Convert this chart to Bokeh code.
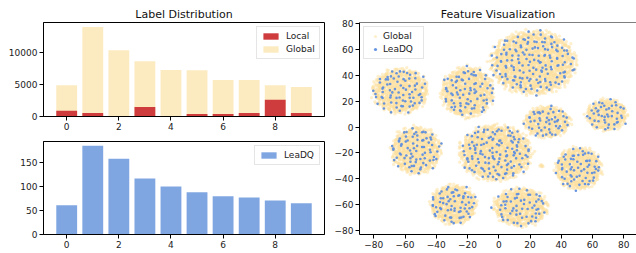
import math
from bokeh.plotting import figure
from bokeh.models import Legend, LegendItem, FixedTicker, Range1d, Span
from bokeh.layouts import row, column
from bokeh.embed import file_html
from bokeh.resources import INLINE

# ---------------- data ----------------
classes = [0, 1, 2, 3, 4, 5, 6, 7, 8, 9]
global_counts = [4900, 14000, 10350, 8650, 7260, 7240, 5700, 5700, 4900, 4600]
local_counts = [900, 550, 60, 1500, 60, 400, 400, 550, 2600, 550]
leadq_counts = [61, 185, 158, 117, 100, 88, 80, 77, 71, 65]

bar_xticks = [0, 2, 4, 6, 8]
top_yticks = [0, 5000, 10000]
bot_yticks = [0, 50, 100, 150]
tsne_ticks = [-80, -60, -40, -20, 0, 20, 40, 60, 80]

# t-SNE cluster centres / extents / point counts
cluster_cx = [-63, -20, 22, 69, 31, -53, -2, 51, -29, 14, 27.5]
cluster_cy = [28, 27, 50, 9.5, 4, -18, -20, -32, -60, -62, -30]
cluster_rx = [17.5, 16.5, 26.5, 13, 14.5, 15.5, 22.5, 14.5, 14.5, 17, 1.5]
cluster_ry = [17, 19, 24, 12, 12, 18, 21, 16, 15, 14.5, 1]
cluster_global_n = [700, 740, 1500, 370, 410, 660, 1120, 550, 520, 580, 6]
cluster_leadq_n = [75, 80, 160, 45, 50, 75, 130, 65, 65, 60, 0]

FONT = "DejaVu Sans"
C_LOCAL = "#cf3c3e"
C_GLOBAL = "#fcebc0"
C_LEADQ = "#80a6e2"
C_PT_GLOBAL = "#fddf9c"
C_PT_LEADQ = "#5f8fdf"


def halton(i, b):
    f, r = 1.0, 0.0
    while i > 0:
        f /= b
        r += f * (i % b)
        i //= b
    return r


def cluster_points(counts, seed_off):
    xs, ys = [], []
    for k in range(len(cluster_cx)):
        start = 1 + k * 1009 + seed_off
        for i in range(start, start + counts[k]):
            u = halton(i, 2)
            v = halton(i, 3)
            w = halton(i, 5)
            r = math.sqrt(u) * (0.88 + 0.24 * w)
            th = 2 * math.pi * v
            xs.append(cluster_cx[k] + cluster_rx[k] * r * math.cos(th))
            ys.append(cluster_cy[k] + cluster_ry[k] * r * math.sin(th))
    return xs, ys


def style(p):
    p.outline_line_color = "black"
    p.outline_line_width = 1
    p.xgrid.visible = False
    p.ygrid.visible = False
    p.background_fill_color = "white"
    p.border_fill_color = "white"
    for ax in p.axis:
        ax.axis_line_color = "black"
        ax.axis_line_width = 1
        ax.major_tick_out = 4
        ax.major_tick_in = 0
        ax.major_tick_line_color = "black"
        ax.minor_tick_line_color = None
        ax.major_label_text_font = FONT
        ax.major_label_text_font_size = "9px"
        ax.major_label_text_color = "#222222"
        ax.major_label_standoff = 2
    if p.title is not None:
        p.title.text_font = FONT
        p.title.text_font_size = "11px"
        p.title.text_font_style = "normal"
        p.title.text_color = "#111111"
        p.title.align = "center"
        p.title.standoff = 3


def style_legend(lg, gw, gh, standoff, lw):
    lg.margin = 4
    lg.padding = 4
    lg.spacing = 3
    lg.glyph_width = gw
    lg.glyph_height = gh
    lg.label_height = 10
    lg.label_width = lw
    lg.label_standoff = standoff
    lg.label_text_font = FONT
    lg.label_text_font_size = "9px"
    lg.label_text_color = "#222222"
    lg.border_line_color = "#cccccc"
    lg.border_line_width = 1
    lg.background_fill_color = "white"
    lg.background_fill_alpha = 0.8


# ---------------- top-left: Label Distribution ----------------
p1 = figure(width=330, height=134, output_backend="svg", toolbar_location=None,
            title="Label Distribution",
            x_range=Range1d(-0.89, 9.89), y_range=Range1d(0, 14700),
            min_border_left=43, min_border_right=6, min_border_top=22, min_border_bottom=18)
r_glob = p1.vbar(x=classes, top=global_counts, width=0.8, fill_color=C_GLOBAL, line_color=None)
r_loc = p1.vbar(x=classes, top=local_counts, width=0.8, fill_color=C_LOCAL, line_color=None)
p1.xaxis.ticker = FixedTicker(ticks=bar_xticks)
p1.yaxis.ticker = FixedTicker(ticks=top_yticks)
style(p1)
lg1 = Legend(items=[LegendItem(label="Local", renderers=[r_loc]),
                    LegendItem(label="Global", renderers=[r_glob])],
             location="top_right")
style_legend(lg1, 19, 8, 6, 29)
p1.add_layout(lg1)

# ---------------- bottom-left: LeaDQ ----------------
p2 = figure(width=330, height=119, output_backend="svg", toolbar_location=None,
            x_range=Range1d(-0.89, 9.89), y_range=Range1d(0, 194),
            min_border_left=43, min_border_right=6, min_border_top=7, min_border_bottom=19)
r_lq = p2.vbar(x=classes, top=leadq_counts, width=0.8, fill_color=C_LEADQ, line_color=None)
p2.xaxis.ticker = FixedTicker(ticks=bar_xticks)
p2.yaxis.ticker = FixedTicker(ticks=bot_yticks)
style(p2)
lg2 = Legend(items=[LegendItem(label="LeaDQ", renderers=[r_lq])], location="top_right")
style_legend(lg2, 19, 8, 6, 31)
p2.add_layout(lg2)

# ---------------- right: Feature Visualization ----------------
p3 = figure(width=306, height=253, output_backend="svg", toolbar_location=None,
            title="Feature Visualization",
            x_range=Range1d(-89.15, 88.1), y_range=Range1d(-83.3, 81),
            min_border_left=29, min_border_right=0, min_border_top=22, min_border_bottom=19)
gx, gy = cluster_points(cluster_global_n, 0)
lx, ly = cluster_points(cluster_leadq_n, 20011)
r_pg = p3.scatter(x=gx, y=gy, size=3.3, marker="circle", fill_color=C_PT_GLOBAL,
                  fill_alpha=0.5, line_color=None)
r_pl = p3.scatter(x=lx, y=ly, size=2.6, marker="circle", fill_color=C_PT_LEADQ,
                  fill_alpha=0.95, line_color=None)
p3.xaxis.ticker = FixedTicker(ticks=tsne_ticks)
p3.yaxis.ticker = FixedTicker(ticks=tsne_ticks)
style(p3)
p3.outline_line_color = None
overrides = {t: ("\u2212" + str(abs(t)) if t < 0 else str(t)) for t in tsne_ticks}
p3.xaxis.major_label_overrides = overrides
p3.yaxis.major_label_overrides = overrides
p3.add_layout(Span(location=81, dimension="width", line_color="black", line_width=1))
lg3 = Legend(items=[LegendItem(label="Global", renderers=[r_pg]),
                    LegendItem(label="LeaDQ", renderers=[r_pl])],
             location="top_left")
style_legend(lg3, 14, 8, 1, 36)
p3.add_layout(lg3)

layout = row(column(p1, p2), p3)

with open("out.html", "w") as f:
    f.write(file_html(layout, INLINE))
